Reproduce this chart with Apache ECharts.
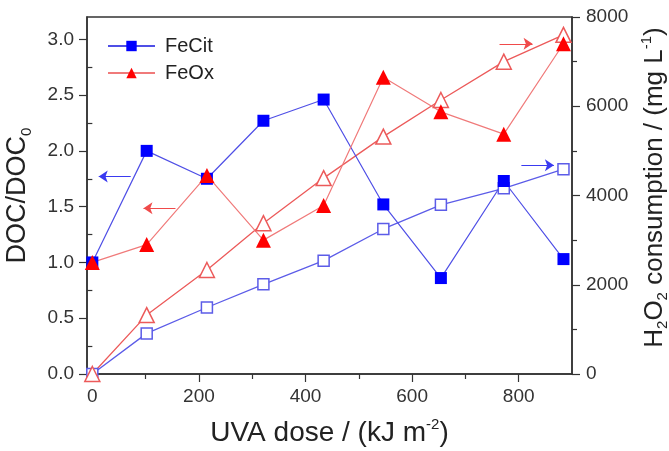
<!DOCTYPE html>
<html><head><meta charset="utf-8">
<script src="https://cdn.jsdelivr.net/npm/echarts@6/dist/echarts.min.js"></script>
<style>html,body{margin:0;padding:0;background:#fff}#c{width:669px;height:451px}</style>
</head><body><div id="c"></div>
<script>
// ---- data ----
const doses = [0, 102, 215, 321, 434, 546, 654, 772, 884];
const fecitDOC = [1.0, 2.0, 1.75, 2.27, 2.46, 1.52, 0.86, 1.73, 1.03];
const feoxDOC = [1.0, 1.16, 1.78, 1.20, 1.51, 2.66, 2.35, 2.15, 2.96];
const fecitH2O2 = [0, 910, 1490, 2010, 2540, 3250, 3790, 4160, 4590];
const feoxH2O2 = [0, 1320, 2330, 3380, 4390, 5320, 6140, 7000, 7600];
const xLabels = [0, 200, 400, 600, 800];
const xMinor = [100, 300, 500, 700];
const yLeftLabels = [0, 0.5, 1.0, 1.5, 2.0, 2.5, 3.0];
const yLeftMinor = [0.25, 0.75, 1.25, 1.75, 2.25, 2.75];
// arrows: [x start, x end, y]
const arrowFeCitDOC = [72, 12, 1.77];
const arrowFeOxDOC = [156, 96, 1.485];
const arrowFeOxH2O2 = [764, 826, 7400];
const arrowFeCitH2O2 = [805, 866, 4680];

const font = '"Liberation Sans", Arial, sans-serif';
const ax = '#333';
const blue = '#0000ff', blueLine = '#4f4fe6', blueOpen = '#5c5ce8';
const red = '#ff0000', redLine = '#f07a7a', redOpen = '#ec5a5a';

function pts(ys) { return doses.map((d, i) => [d, ys[i]]); }
function arrow(a, color) {
  return {
    silent: true, symbol: ['none', 'arrow'], symbolSize: 9,
    label: { show: false }, emphasis: { disabled: true },
    lineStyle: { color: color, width: 1.2, type: 'solid', opacity: 1 },
    data: [[{ coord: [a[0], a[2]] }, { coord: [a[1], a[2]] }]]
  };
}
function rich(size) {
  return {
    n: { fontSize: size, fontFamily: font, color: '#222', lineHeight: size + 5 },
    sup: { fontSize: 15, fontFamily: font, color: '#222', lineHeight: 15, verticalAlign: 'top' },
    sub: { fontSize: 15, fontFamily: font, color: '#222', lineHeight: 15, verticalAlign: 'bottom' }
  };
}

const chart = echarts.init(document.getElementById('c'));
chart.setOption({
  animation: false,
  textStyle: { fontFamily: font },
  grid: { left: 87, right: 97, top: 17, bottom: 77, show: true, borderColor: ax, borderWidth: 1.5, backgroundColor: 'transparent', outerBoundsMode: 'none', containLabel: false },
  legend: {
    data: ['FeCit', 'FeOx'], orient: 'vertical', left: 107, top: 36, padding: 0,
    itemWidth: 47, itemHeight: 13, itemGap: 7,
    textStyle: { fontSize: 20, color: '#222', fontFamily: font, padding: [0, 0, 0, 5] }
  },
  xAxis: [{
    type: 'value', min: -10, max: 900, position: 'bottom',
    axisLine: { onZero: false, lineStyle: { color: ax, width: 1.5 } },
    axisTick: { customValues: xLabels, length: 8, lineStyle: { color: ax, width: 1.2 } },
    axisLabel: { customValues: xLabels, fontSize: 19, color: '#333', margin: 13 },
    splitLine: { show: false },
    name: '{n|UVA dose / (kJ m}{sup|-2}{n|)}', nameLocation: 'middle', nameGap: 43,
    nameTextStyle: { rich: rich(28) }
  }, {
    type: 'value', min: -10, max: 900, position: 'bottom',
    axisLine: { show: false },
    axisTick: { customValues: xMinor, length: 5, lineStyle: { color: ax, width: 1.2 } },
    axisLabel: { show: false }, splitLine: { show: false }
  }],
  yAxis: [{
    type: 'value', min: 0, max: 3.2, position: 'left',
    axisLine: { show: true, onZero: false, lineStyle: { color: ax, width: 1.5 } },
    axisTick: { show: true, customValues: yLeftLabels, length: 8, lineStyle: { color: ax, width: 1.2 } },
    axisLabel: { customValues: yLeftLabels, fontSize: 19, color: '#333', margin: 13, formatter: v => v.toFixed(1) },
    splitLine: { show: false },
    name: '{n|DOC/DOC}{sub|0}', nameLocation: 'middle', nameRotate: 90, nameGap: 53,
    nameTextStyle: { rich: rich(27) }
  }, {
    type: 'value', min: 0, max: 8000, interval: 2000, position: 'right',
    axisLine: { show: true, onZero: false, lineStyle: { color: ax, width: 1.5 } },
    axisTick: { show: true, length: 8, lineStyle: { color: ax, width: 1.2 } },
    minorTick: { show: true, splitNumber: 2, length: 5, lineStyle: { color: ax, width: 1.2 } },
    axisLabel: { fontSize: 19, color: '#333', margin: 14, formatter: v => String(v) },
    splitLine: { show: false },
    name: '{n|H}{sub|2}{n|O}{sub|2}{n| consumption / (mg L}{sup|-1}{n|)}', nameLocation: 'middle', nameRotate: 90, nameGap: 63,
    nameTextStyle: { rich: rich(26), padding: [0, 0, 0, 16] }
  }, {
    type: 'value', min: 0, max: 3.2, position: 'left',
    axisLine: { show: false },
    axisTick: { show: true, customValues: yLeftMinor, length: 5, lineStyle: { color: ax, width: 1.2 } },
    axisLabel: { show: false }, splitLine: { show: false }
  }],
  series: [{
    name: 'FeCit H2O2', type: 'line', xAxisIndex: 0, yAxisIndex: 1, data: pts(fecitH2O2),
    symbol: 'rect', symbolSize: 11, showAllSymbol: true,
    itemStyle: { color: '#fff', borderColor: blueOpen, borderWidth: 1.5 },
    lineStyle: { color: blueOpen, width: 1.3 },
    markLine: arrow(arrowFeCitH2O2, '#3a3af0')
  }, {
    name: 'FeOx H2O2', type: 'line', xAxisIndex: 0, yAxisIndex: 1, data: pts(feoxH2O2),
    symbol: 'triangle', symbolSize: 15, showAllSymbol: true,
    itemStyle: { color: '#fff', borderColor: redOpen, borderWidth: 1.5 },
    lineStyle: { color: redOpen, width: 1.3 },
    markLine: arrow(arrowFeOxH2O2, '#f04a4a')
  }, {
    name: 'FeCit', type: 'line', xAxisIndex: 0, yAxisIndex: 0, data: pts(fecitDOC),
    symbol: 'rect', symbolSize: 12, showAllSymbol: true,
    itemStyle: { color: blue },
    lineStyle: { color: blueLine, width: 1.2 },
    markLine: arrow(arrowFeCitDOC, '#3a3af0')
  }, {
    name: 'FeOx', type: 'line', xAxisIndex: 0, yAxisIndex: 0, data: pts(feoxDOC),
    symbol: 'triangle', symbolSize: 15, showAllSymbol: true,
    itemStyle: { color: red },
    lineStyle: { color: redLine, width: 1.2 },
    markLine: arrow(arrowFeOxDOC, '#f04a4a')
  }]
});
</script></body></html>
